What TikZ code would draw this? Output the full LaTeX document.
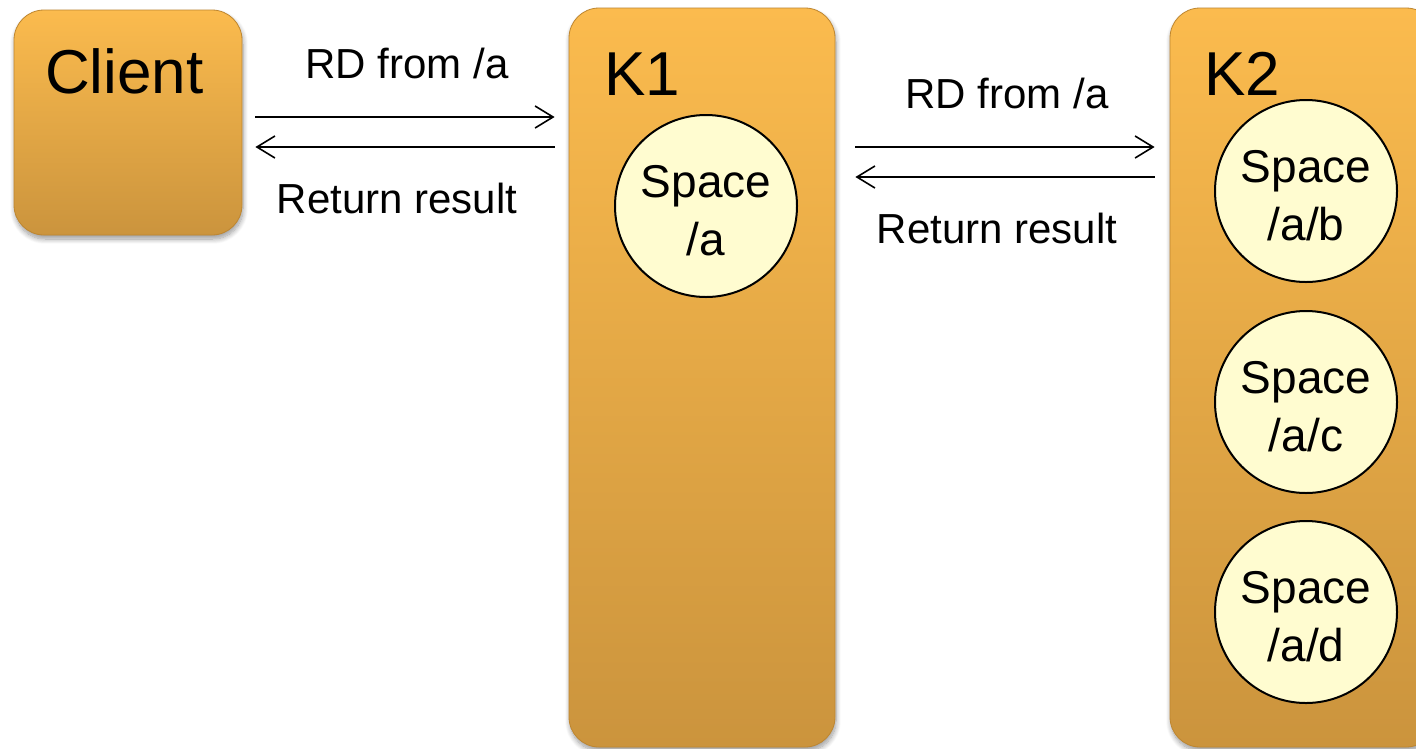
\documentclass[tikz,border=0pt]{standalone}
\usepackage{fontspec}
\setmainfont{Liberation Sans}
\usetikzlibrary{arrows.meta,shadows.blur}

\definecolor{paneltop}{RGB}{251,187,78}
\definecolor{panelbottom}{RGB}{203,148,61}
\definecolor{paneledge}{RGB}{190,134,48}
\definecolor{spacefill}{RGB}{255,252,208}

\begin{document}
\begin{tikzpicture}[x=1pt,y=-1pt,
  panel/.style={rectangle, rounded corners=30pt, inner sep=0pt,
    top color=paneltop, bottom color=panelbottom,
    draw=paneledge, line width=0.8pt,
    blur shadow={shadow blur steps=10, shadow xshift=1pt, shadow yshift=-4pt, shadow opacity=40, shadow blur radius=5pt}},
  title/.style={inner sep=0pt, anchor=base west, font=\fontsize{62}{70}\selectfont},
  space/.style={circle, minimum size=182pt, inner sep=0pt, fill=spacefill,
    draw=black, line width=2pt, align=center,
    font=\fontsize{46}{58}\selectfont},
  spacetext/.style={inner sep=0pt, align=center, font=\fontsize{46}{58}\selectfont},
  msg/.style={inner sep=0pt, font=\fontsize{42}{50}\selectfont},
  arr/.style={draw=black, line width=1.6pt, -{Straight Barb[length=18pt,width=22pt,line width=1.6pt]}}
]
\useasboundingbox (0,0) rectangle (1416,748);
\clip (0,0) rectangle (1416,748);

% the three machines
\node[panel, minimum width=228pt, minimum height=225pt] (client) at (128,122.5) {};
\node[panel, minimum width=266pt, minimum height=739pt] (k1) at (702,377.5) {};
\node[panel, minimum width=266pt, minimum height=739pt] (k2) at (1303,377.5) {};

\node[title] (clientname) at (45,93) {Client};
\node[title] (k1name) at (604,95) {K1};
\node[title] (k2name) at (1204,95) {K2};

% spaces hosted on each machine
\node[space] (sa) at (706,206) {};
\node[space] (sab) at (1306,191) {};
\node[space] (sac) at (1306,402) {};
\node[space] (sad) at (1306,612) {};
\node[spacetext] at ([yshift=-5pt]sa.center) {Space\\/a};
\node[spacetext] at ([yshift=-5pt]sab.center) {Space\\/a/b};
\node[spacetext] at ([yshift=-5pt]sac.center) {Space\\/a/c};
\node[spacetext] at ([yshift=-5pt]sad.center) {Space\\/a/d};

% request / reply between client and K1
\draw[arr, shorten <=13pt, shorten >=14pt] (client.east |- 0,117) -- (k1.west |- 0,117);
\draw[arr, shorten <=14pt, shorten >=13pt] (k1.west |- 0,147) -- (client.east |- 0,147);
\node[msg] (rd1) at (407,63) {RD from /a};
\node[msg] (ret1) at (397,198) {Return result};

% request / reply between K1 and K2
\draw[arr, shorten <=20pt, shorten >=15pt] (k1.east |- 0,147) -- (k2.west |- 0,147);
\draw[arr, shorten <=15pt, shorten >=20pt] (k2.west |- 0,177) -- (k1.east |- 0,177);
\node[msg] (rd2) at (1007,93) {RD from /a};
\node[msg] (ret2) at (997,228) {Return result};
\end{tikzpicture}
\end{document}
